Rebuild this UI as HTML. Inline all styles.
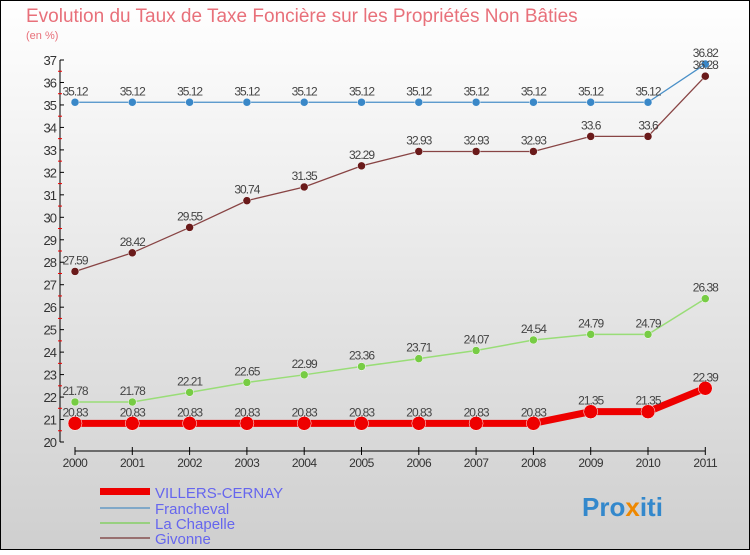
<!DOCTYPE html>
<html><head><meta charset="utf-8"><style>
body{margin:0;width:750px;height:550px;overflow:hidden;font-family:"Liberation Sans",sans-serif}
</style></head><body>
<svg width="750" height="550" xmlns="http://www.w3.org/2000/svg">
<defs><linearGradient id="bg" x1="0" y1="0" x2="0" y2="1"><stop offset="0" stop-color="#ffffff"/><stop offset="1" stop-color="#cfcfcf"/></linearGradient></defs>
<rect x="0.5" y="0.5" width="749" height="549" fill="url(#bg)" stroke="#000"/>
<text x="26" y="22" font-size="19" fill="#e8707a">Evolution du Taux de Taxe Foncière sur les Propriétés Non Bâties</text>
<text x="26" y="39" font-size="11" fill="#e8707a">(en %)</text>
<g id="axes"></g><g id="series"></g>
<g>
<rect x="100" y="488" width="50" height="7" fill="#ee0000"/>
<text x="155" y="498" font-size="15" fill="#6666ee">VILLERS-CERNAY</text>
<line x1="100" x2="150" y1="508" y2="508" stroke="#80a8c8" stroke-width="2"/>
<text x="155" y="514" font-size="15" fill="#6666ee">Francheval</text>
<line x1="100" x2="150" y1="523" y2="523" stroke="#98d080" stroke-width="2"/>
<text x="155" y="529" font-size="15" fill="#6666ee">La Chapelle</text>
<line x1="100" x2="150" y1="538" y2="538" stroke="#987070" stroke-width="2"/>
<text x="155" y="544" font-size="15" fill="#6666ee">Givonne</text>
</g>
<text x="582" y="516" font-size="26" font-weight="bold" fill="#3388cc">Pro<tspan fill="#ee8800">x</tspan>iti</text>
</svg>
<script>
const years=["2000","2001","2002","2003","2004","2005","2006","2007","2008","2009","2010","2011"];
const villers=[20.83,20.83,20.83,20.83,20.83,20.83,20.83,20.83,20.83,21.35,21.35,22.39];
const francheval=[35.12,35.12,35.12,35.12,35.12,35.12,35.12,35.12,35.12,35.12,35.12,36.82];
const chapelle=[21.78,21.78,22.21,22.65,22.99,23.36,23.71,24.07,24.54,24.79,24.79,26.38];
const givonne=[27.59,28.42,29.55,30.74,31.35,32.29,32.93,32.93,32.93,33.6,33.6,36.28];
const yTicks=[20,21,22,23,24,25,26,27,28,29,30,31,32,33,34,35,36,37];
const NS="http://www.w3.org/2000/svg";
const X=i=>75+i*57.3, Y=v=>442-(v-20)*22.47;
function mk(p,t,a){const e=document.createElementNS(NS,t);for(const k in a)e.setAttribute(k,a[k]);p.appendChild(e);return e;}
const ax=document.getElementById('axes');
let l=mk(ax,'line',{x1:60,x2:60,y1:Y(37),y2:Y(20),stroke:'#000'});

yTicks.forEach(v=>{mk(ax,'line',{x1:60,x2:64,y1:Y(v),y2:Y(v),stroke:'#000'});
 if(v<37)mk(ax,'line',{x1:58,x2:62,y1:Y(v+0.5),y2:Y(v+0.5),stroke:'#e00'});
 const t=mk(ax,'text',{x:56,y:Y(v)+5,'font-size':13,fill:'#333','text-anchor':'end','letter-spacing':'-1'});t.textContent=v;
 });
l=mk(ax,'line',{x1:X(0),x2:X(11),y1:451,y2:451,stroke:'#000'});

years.forEach((y,i)=>{mk(ax,'line',{x1:X(i),x2:X(i),y1:447,y2:455,stroke:'#000'});
 const t=mk(ax,'text',{x:X(i),y:467,'font-size':12,fill:'#333','text-anchor':'middle','letter-spacing':'-0.5'});t.textContent=y;
 });
const sg=document.getElementById('series');
function series(name,d,col,w,r,fill){
 const g=mk(sg,'g',{});
 mk(g,'polyline',{points:d.map((v,i)=>X(i)+','+Y(v)).join(' '),fill:'none',stroke:col,'stroke-width':w});
 d.forEach((v,i)=>{const c=mk(g,'circle',{cx:X(i),cy:Y(v),r:r,fill:fill,stroke:'#fff','stroke-width':0.5});
  
  const t=mk(g,'text',{x:X(i),y:Y(v)-7,'font-size':12,fill:'#444','text-anchor':'middle','letter-spacing':'-1'});t.textContent=String(v);
  });
}
series('francheval',francheval,'#4a90c8',1.3,4,'#3a88c8');
series('givonne',givonne,'#884444',1.3,4,'#6a1a1a');
series('lachapelle',chapelle,'#99dd77',1.5,4,'#77cc44');
series('villers',villers,'#ee0000',7,7,'#ee0000');
</script>
</body></html>
